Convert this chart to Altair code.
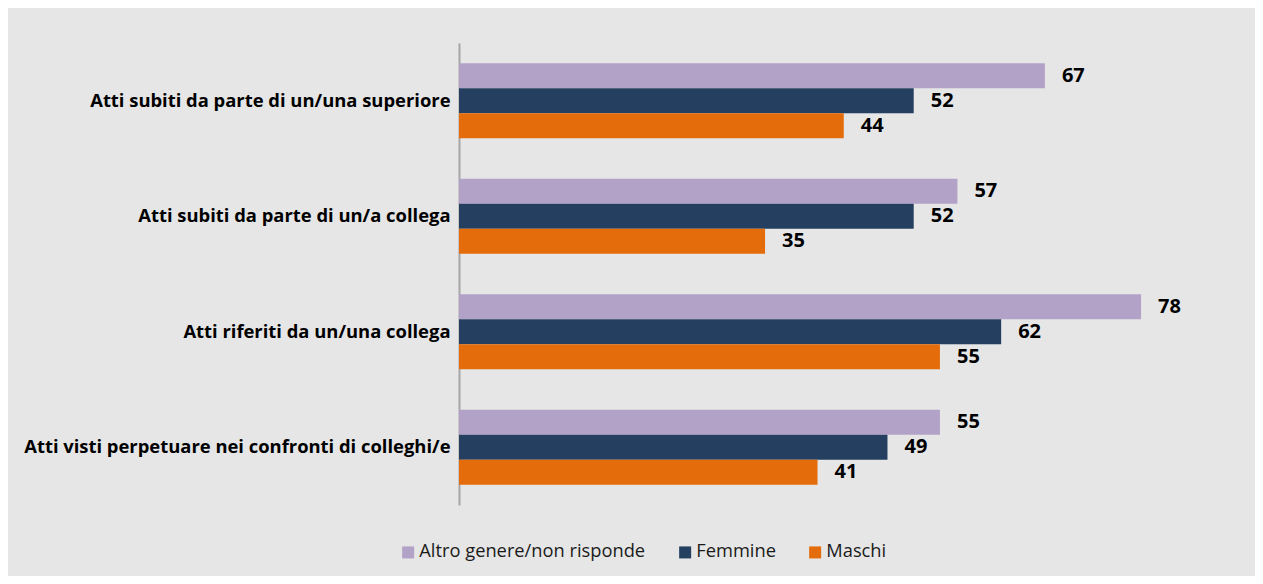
import altair as alt
import pandas as pd

categories = [
    "Atti subiti da parte di un/una superiore",
    "Atti subiti da parte di un/a collega",
    "Atti riferiti da un/una collega ",
    "Atti visti perpetuare nei confronti di colleghi/e",
]
series = ["Altro genere/non risponde", "Femmine", "Maschi"]
altro = [67, 57, 78, 55]
femmine = [52, 52, 62, 49]
maschi = [44, 35, 55, 41]
colors = ["#b3a2c7", "#243f60", "#e46c0a"]

rows = []
for i, c in enumerate(categories):
    for j, (s, vals) in enumerate(zip(series, [altro, femmine, maschi])):
        rows.append({"cat": c, "serie": s, "ord": j, "val": vals[i]})
df = pd.DataFrame(rows)

FONT = "Open Sans"

y = alt.Y("cat:N", sort=categories, title=None,
          scale=alt.Scale(paddingInner=0.35, paddingOuter=0.175),
          axis=alt.Axis(labelFont=FONT, labelFontSize=18.4, labelFontWeight="bold",
                        labelColor="#000000", ticks=False, labelPadding=9,
                        domainColor="#a6a6a6", domainWidth=2, labelLimit=600))
yoff = alt.YOffset("serie:N", sort=series)
x = alt.X("val:Q", scale=alt.Scale(domain=[0, 90]), axis=None)

base = alt.Chart(df)
bars = base.mark_bar(size=25).encode(
    y=y, yOffset=yoff, x=x,
    color=alt.Color("serie:N", sort=series,
                    scale=alt.Scale(domain=series, range=colors),
                    legend=alt.Legend(title=None, orient="none", direction="horizontal",
                                      legendX=-60, legendY=500,
                                      symbolType="square", symbolSize=144,
                                      symbolStrokeWidth=0, symbolOpacity=1,
                                      labelFont=FONT, labelFontSize=18.3,
                                      labelColor="#1a1a1a", columnPadding=30,
                                      labelOffset=2, labelLimit=400)),
)
texts = base.mark_text(align="left", baseline="middle", dx=17, font=FONT,
                       fontSize=20, fontWeight="bold", color="#000000").encode(
    y=y, yOffset=yoff, x=x, text=alt.Text("val:Q"),
)

chart = alt.layer(bars, texts).properties(
    width=787, height=462,
    background="#e6e6e6",
    padding={"left": 451, "top": 35, "right": 9, "bottom": 71},
    autosize=alt.AutoSizeParams(type="none"),
).configure_view(stroke=None)

chart.save("out.html", embed_options={"renderer": "svg", "actions": False})
